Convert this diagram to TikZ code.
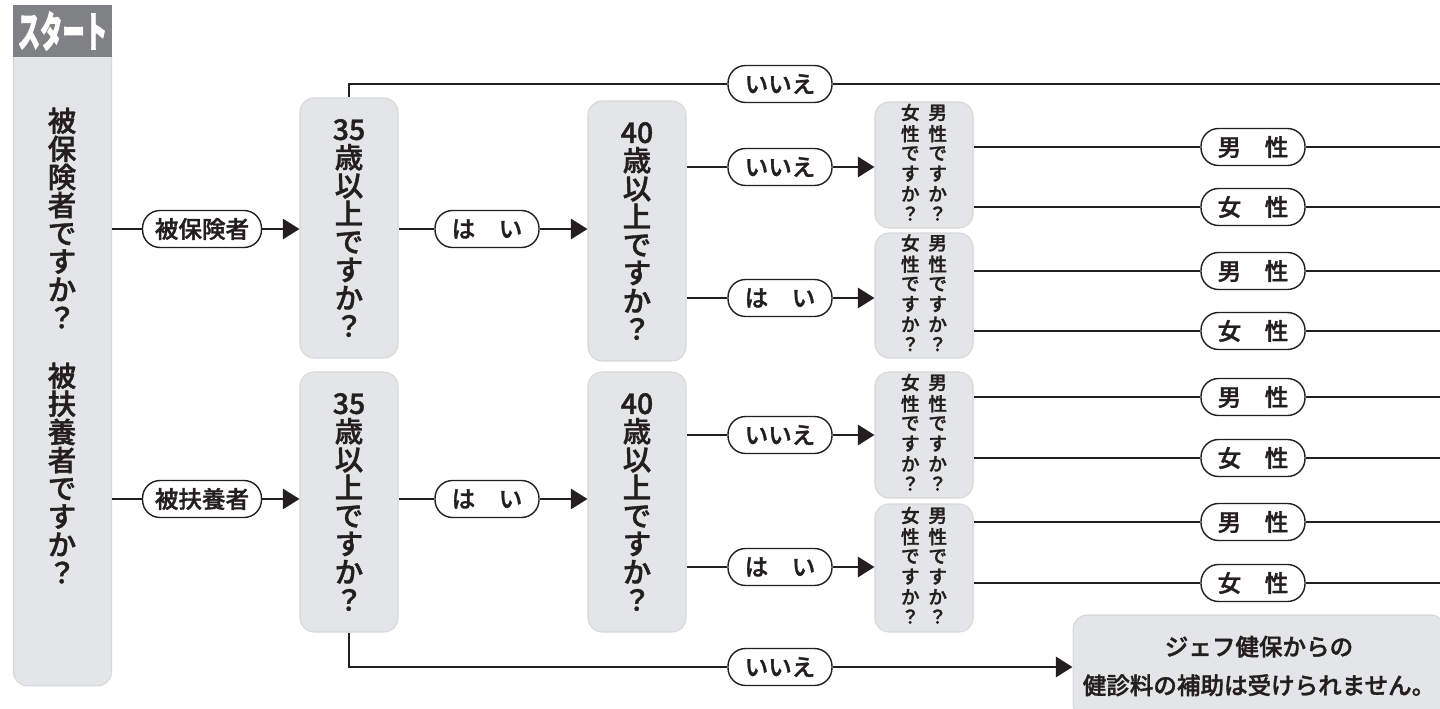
\documentclass[tikz,border=0pt]{standalone}
\usepackage{fontspec}
\usepackage{graphicx}
\usetikzlibrary{arrows.meta}
\newfontfamily\jpk{Noto Sans CJK JP Black}[FakeBold=2]
\newfontfamily\jpm{Noto Sans CJK JP Medium}[FakeBold=1.4]
\definecolor{boxgray}{RGB}{228,229,231}
\definecolor{tabgray}{RGB}{128,129,132}
\definecolor{ink}{RGB}{35,31,32}
\newcommand\tcol[1]{\begin{tabular}[t]{@{}c@{}}#1\end{tabular}}
\begin{document}
\begin{tikzpicture}[x=0.02cm,y=-0.02cm,
  qbox/.style={fill=boxgray,draw=boxgray!94!black,line width=0.6pt,rounded corners=8pt,minimum width=1.96cm,inner sep=0pt,align=center,text=ink},
  pill/.style={draw=ink,fill=white,line width=0.8pt,rounded corners=10pt,minimum height=0.74cm,minimum width=2.08cm,inner sep=0pt,text=ink,font=\jpm\fontsize{13.4}{13.4}\selectfont},
  big/.style={font=\jpm\fontsize{16.2}{16}\selectfont},
  small/.style={font=\jpm\fontsize{10.6}{10.6}\selectfont},
  link/.style={ink,line width=1.6pt},
  arr/.style={link,-{Triangle[length=9.5pt,width=11.5pt]}}]
\useasboundingbox (0,0) rectangle (1440,709);
\clip (0,0) rectangle (1440,709);
\node[qbox,minimum height=12.92cm] (col) at (62.5,363) {};
\node[fill=tabgray,minimum width=1.98cm,minimum height=1.04cm,inner sep=0pt,text=white,font=\jpk\fontsize{24}{24}\selectfont] (tab) at (62.5,31) {\scalebox{0.53}[1]{スタート}};
\node[big,align=center,text=ink] (q1) at (62,218) {被\\保\\険\\者\\で\\す\\か\\？};
\node[big,align=center,text=ink] (q2) at (62,473) {被\\扶\\養\\者\\で\\す\\か\\？};
\node[qbox,big,minimum height=5.2cm] (a1) at (349,228) {35\\歳\\以\\上\\で\\す\\か\\？};
\node[qbox,big,minimum height=5.2cm] (a2) at (349,502) {35\\歳\\以\\上\\で\\す\\か\\？};
\node[qbox,big,minimum height=5.2cm] (b1) at (637,231) {40\\歳\\以\\上\\で\\す\\か\\？};
\node[qbox,big,minimum height=5.2cm] (b2) at (637,502) {40\\歳\\以\\上\\で\\す\\か\\？};
\node[qbox,small,minimum height=2.52cm] (g1) at (924,165) {\tcol{女\\性\\で\\す\\か\\？}\hspace{5pt}\tcol{男\\性\\で\\す\\か\\？}};
\node[qbox,small,minimum height=2.5cm] (g2) at (924,295.5) {\tcol{女\\性\\で\\す\\か\\？}\hspace{5pt}\tcol{男\\性\\で\\す\\か\\？}};
\node[qbox,small,minimum height=2.52cm] (g3) at (924,435) {\tcol{女\\性\\で\\す\\か\\？}\hspace{5pt}\tcol{男\\性\\で\\す\\か\\？}};
\node[qbox,small,minimum height=2.56cm] (g4) at (924,568) {\tcol{女\\性\\で\\す\\か\\？}\hspace{5pt}\tcol{男\\性\\で\\す\\か\\？}};
\node[qbox,minimum width=7.44cm,minimum height=2.04cm,font=\jpm\fontsize{13.4}{22}\selectfont] (fin) at (1259,666) {ジェフ健保からの\\健診料の補助は受けられません。};
\coordinate (e0) at (1440,84);
\coordinate (e1) at (1440,147);
\coordinate (e2) at (1440,207);
\coordinate (e3) at (1440,271);
\coordinate (e4) at (1440,331);
\coordinate (e5) at (1440,397);
\coordinate (e6) at (1440,458);
\coordinate (e7) at (1440,522);
\coordinate (e8) at (1440,583);
\node[pill,minimum width=2.38cm] (p1) at (202,229) {被保険者};
\node[pill,minimum width=2.38cm] (p2) at (202,499) {被扶養者};
\node[pill] (n0) at (780,84) {いいえ};
\node[pill] (h1) at (487,229) {は　い};
\node[pill] (h2) at (487,499) {は　い};
\node[pill] (n1) at (780,167) {いいえ};
\node[pill] (h3) at (780,298) {は　い};
\node[pill] (n2) at (780,435) {いいえ};
\node[pill] (h4) at (780,567) {は　い};
\node[pill] (n5) at (780,667) {いいえ};
\node[pill] (s1) at (1253,147) {男　性};
\node[pill] (s2) at (1253,207) {女　性};
\node[pill] (s3) at (1253,271) {男　性};
\node[pill] (s4) at (1253,331) {女　性};
\node[pill] (s5) at (1253,397) {男　性};
\node[pill] (s6) at (1253,458) {女　性};
\node[pill] (s7) at (1253,522) {男　性};
\node[pill] (s8) at (1253,583) {女　性};
\draw[link] (col.east |- p1) -- (p1.west);
\draw[arr] (p1.east) -- (a1.west |- p1);
\draw[link] (col.east |- p2) -- (p2.west);
\draw[arr] (p2.east) -- (a2.west |- p2);
\draw[link] (a1.north) |- (n0.west);
\draw[link] (n0.east) -- (e0);
\draw[link] (a1.east |- h1) -- (h1.west);
\draw[arr] (h1.east) -- (b1.west |- h1);
\draw[link] (a2.east |- h2) -- (h2.west);
\draw[arr] (h2.east) -- (b2.west |- h2);
\draw[link] (b1.east |- n1) -- (n1.west);
\draw[arr] (n1.east) -- (g1.west |- n1);
\draw[link] (b1.east |- h3) -- (h3.west);
\draw[arr] (h3.east) -- (g2.west |- h3);
\draw[link] (b2.east |- n2) -- (n2.west);
\draw[arr] (n2.east) -- (g3.west |- n2);
\draw[link] (b2.east |- h4) -- (h4.west);
\draw[arr] (h4.east) -- (g4.west |- h4);
\draw[link] (g1.east |- s1) -- (s1.west);
\draw[link] (s1.east) -- (e1);
\draw[link] (g1.east |- s2) -- (s2.west);
\draw[link] (s2.east) -- (e2);
\draw[link] (g2.east |- s3) -- (s3.west);
\draw[link] (s3.east) -- (e3);
\draw[link] (g2.east |- s4) -- (s4.west);
\draw[link] (s4.east) -- (e4);
\draw[link] (g3.east |- s5) -- (s5.west);
\draw[link] (s5.east) -- (e5);
\draw[link] (g3.east |- s6) -- (s6.west);
\draw[link] (s6.east) -- (e6);
\draw[link] (g4.east |- s7) -- (s7.west);
\draw[link] (s7.east) -- (e7);
\draw[link] (g4.east |- s8) -- (s8.west);
\draw[link] (s8.east) -- (e8);
\draw[link] (a2.south) |- (n5.west);
\draw[arr] (n5.east) -- (fin.west |- n5);
\end{tikzpicture}
\end{document}
